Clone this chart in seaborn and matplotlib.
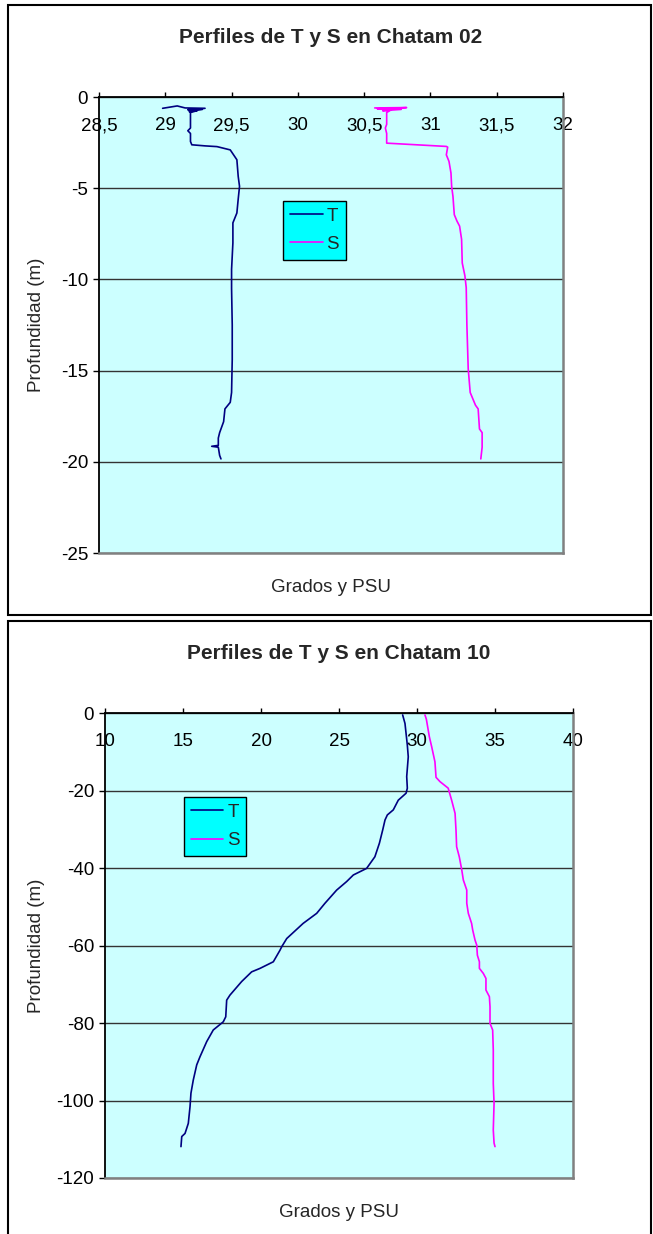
import pandas as pd
import matplotlib.pyplot as plt
import matplotlib.ticker as mticker
from matplotlib.patches import Rectangle
import seaborn as sns

# =========================
# Datos: Chatam 02
# =========================

t02 = [28.98, 29.09, 29.15, 29.30, 29.17, 29.28, 29.18, 29.24, 29.19, 29.19,
       29.17, 29.19, 29.19, 29.20, 29.30, 29.39, 29.49, 29.54, 29.55, 29.56,
       29.55, 29.54, 29.51, 29.51, 29.50, 29.50, 29.505, 29.505, 29.50, 29.49,
       29.45, 29.44, 29.41, 29.40, 29.40, 29.35, 29.40, 29.41, 29.42]
t02_prof = [-0.62, -0.49, -0.60, -0.62, -0.70, -0.68, -0.80, -0.75, -0.85, -1.70,
            -1.85, -2.00, -2.44, -2.62, -2.68, -2.72, -2.90, -3.44, -4.35, -4.90,
            -5.60, -6.36, -6.90, -8.00, -9.45, -10.50, -12.50, -14.40, -16.20, -16.74,
            -17.10, -17.80, -18.40, -18.70, -19.10, -19.15, -19.20, -19.65, -19.84]

s02 = [30.58, 30.82, 30.60, 30.78, 30.64, 30.70, 30.67, 30.67, 30.66, 30.67,
       30.67, 31.12, 31.13, 31.12, 31.14, 31.155, 31.16, 31.17, 31.18, 31.20,
       31.22, 31.235, 31.24, 31.26, 31.27, 31.275, 31.285, 31.30, 31.34, 31.36,
       31.37, 31.39, 31.39, 31.38]
s02_prof = [-0.60, -0.58, -0.65, -0.68, -0.75, -0.72, -0.85, -1.50, -1.70, -2.00,
            -2.53, -2.71, -2.75, -3.17, -3.53, -4.17, -4.90, -5.45, -6.45, -6.80,
            -7.08, -7.80, -9.10, -9.80, -10.45, -12.50, -14.90, -16.20, -16.90, -17.10,
            -18.20, -18.40, -19.20, -19.84]

# =========================
# Datos: Chatam 10
# =========================

t10 = [29.08, 29.23, 29.38, 29.44, 29.34, 29.38, 29.30, 28.80, 28.48, 28.10,
       27.95, 27.80, 27.59, 27.30, 26.77, 25.92, 25.49, 24.85, 24.10, 23.57,
       22.70, 21.65, 21.33, 21.22, 20.79, 19.94, 19.40, 18.76, 18.01, 17.80,
       17.74, 17.58, 16.94, 16.52, 16.09, 15.88, 15.66, 15.51, 15.45, 15.34,
       15.13, 14.92, 14.87]
t10_prof = [-0.5, -2.7, -8.3, -11.3, -16.4, -19.4, -20.7, -22.5, -25.0, -26.3,
            -27.6, -30.2, -33.6, -37.1, -40.1, -41.8, -43.5, -45.7, -49.1, -51.7,
            -54.3, -58.2, -60.3, -61.2, -64.2, -65.9, -66.8, -69.3, -72.8, -74.1,
            -78.4, -79.7, -81.8, -84.8, -88.7, -90.8, -94.7, -98.1, -101.6, -105.9,
            -108.5, -109.3, -111.9]

s10 = [30.51, 30.60, 30.79, 30.94, 31.15, 31.22, 31.47, 32.00, 32.22, 32.44,
       32.50, 32.54, 32.71, 32.87, 32.97, 33.19, 33.19, 33.29, 33.50, 33.57,
       33.72, 33.83, 33.87, 34.00, 34.00, 34.25, 34.42, 34.42, 34.64, 34.68,
       34.68, 34.85, 34.89, 34.89, 34.94, 34.89, 34.94, 35.00]
s10_prof = [-0.5, -1.6, -6.1, -8.7, -12.6, -16.6, -17.7, -19.4, -22.5, -25.9,
            -30.2, -34.5, -37.1, -40.5, -43.1, -45.7, -49.1, -51.7, -54.3, -56.0,
            -58.6, -59.9, -62.5, -64.2, -65.9, -67.2, -68.5, -71.5, -73.2, -75.8,
            -80.1, -81.8, -87.0, -95.6, -100.7, -107.6, -111.0, -111.9]

xticks02 = [28.5, 29, 29.5, 30, 30.5, 31, 31.5, 32]
yticks02 = [0, -5, -10, -15, -20, -25]
xticks10 = [10, 15, 20, 25, 30, 35, 40]
yticks10 = [0, -20, -40, -60, -80, -100, -120]

colores = {"T": "#000080", "S": "#FF00FF"}

sns.set_style("white")
plt.rcParams["font.family"] = ["Liberation Sans", "DejaVu Sans"]
plt.rcParams["axes.unicode_minus"] = False

fig = plt.figure(figsize=(6.53, 12.34), dpi=100)
W, H = 653, 1234


def perfil(rect, t, t_prof, s, s_prof, xticks, yticks, titulo,
           leg_xy, ylab_x):
    ax = fig.add_axes([rect[0] / W, 1 - rect[3] / H,
                       (rect[2] - rect[0]) / W, (rect[3] - rect[1]) / H])
    ax.set_facecolor("#CCFFFF")

    df = pd.concat([
        pd.DataFrame({"valor": t, "prof": t_prof, "var": "T"}),
        pd.DataFrame({"valor": s, "prof": s_prof, "var": "S"}),
    ], ignore_index=True)

    sns.lineplot(
        data=df,
        x="valor",
        y="prof",
        hue="var",
        palette=colores,
        sort=False,
        estimator=None,
        linewidth=1.2,
        ax=ax,
    )

    ax.set_xlim(xticks[0], xticks[-1])
    ax.set_ylim(yticks[-1], yticks[0])
    ax.set_xticks(xticks)
    ax.set_yticks(yticks)
    ax.xaxis.set_major_formatter(
        mticker.FuncFormatter(lambda v, p: f"{v:g}".replace(".", ","))
    )

    ax.yaxis.grid(True, color="#333333", linewidth=1.0)
    ax.xaxis.grid(False)
    ax.set_axisbelow(True)

    ax.tick_params(axis="x", top=True, bottom=False, labeltop=True,
                   labelbottom=False, direction="out", length=3.6,
                   width=1, pad=-30.5, labelsize=13.5, colors="black")
    ax.tick_params(axis="y", left=True, direction="out", length=4.3,
                   width=1, pad=3.5, labelsize=13.5, colors="black")

    for lado in ["left", "top"]:
        ax.spines[lado].set_color("black")
        ax.spines[lado].set_linewidth(1.3)
    for lado in ["right", "bottom"]:
        ax.spines[lado].set_color("#808080")
        ax.spines[lado].set_linewidth(1.8)

    ax.set_xlabel("Grados y PSU", fontsize=13.5, labelpad=19)
    ax.set_ylabel("Profundidad (m)", fontsize=13.5)
    ax.yaxis.set_label_coords(ylab_x, 0.5)
    ax.set_title(titulo, fontsize=15, fontweight="bold", y=1.0, pad=39)

    leg = ax.legend(
        loc="upper left",
        bbox_to_anchor=leg_xy,
        borderaxespad=0,
        facecolor="#00FFFF",
        edgecolor="black",
        framealpha=1,
        fancybox=False,
        handlelength=1.75,
        handletextpad=0.2,
        borderpad=0.35,
        labelspacing=0.6,
        fontsize=13.5,
    )
    leg.get_frame().set_linewidth(1.0)
    return ax


# =========================
# Chatam 02
# =========================

perfil((99, 97, 563, 553), t02, t02_prof, s02, s02_prof,
       xticks02, yticks02, "Perfiles de T y S en Chatam 02",
       (0.397, 0.772), -0.116)

# =========================
# Chatam 10
# =========================

perfil((105, 713, 573, 1178), t10, t10_prof, s10, s10_prof,
       xticks10, yticks10, "Perfiles de T y S en Chatam 10",
       (0.169, 0.819), -0.128)

# marcos de cada grafico
fig.add_artist(Rectangle((8 / W, 1 - 615 / H), 643 / W, 610 / H,
                         transform=fig.transFigure, fill=False,
                         edgecolor="black", linewidth=1.5))
fig.add_artist(Rectangle((8 / W, 1 - 1250 / H), 643 / W, 629 / H,
                         transform=fig.transFigure, fill=False,
                         edgecolor="black", linewidth=1.5))

fig.savefig("out.png", dpi=100)
plt.close(fig)
